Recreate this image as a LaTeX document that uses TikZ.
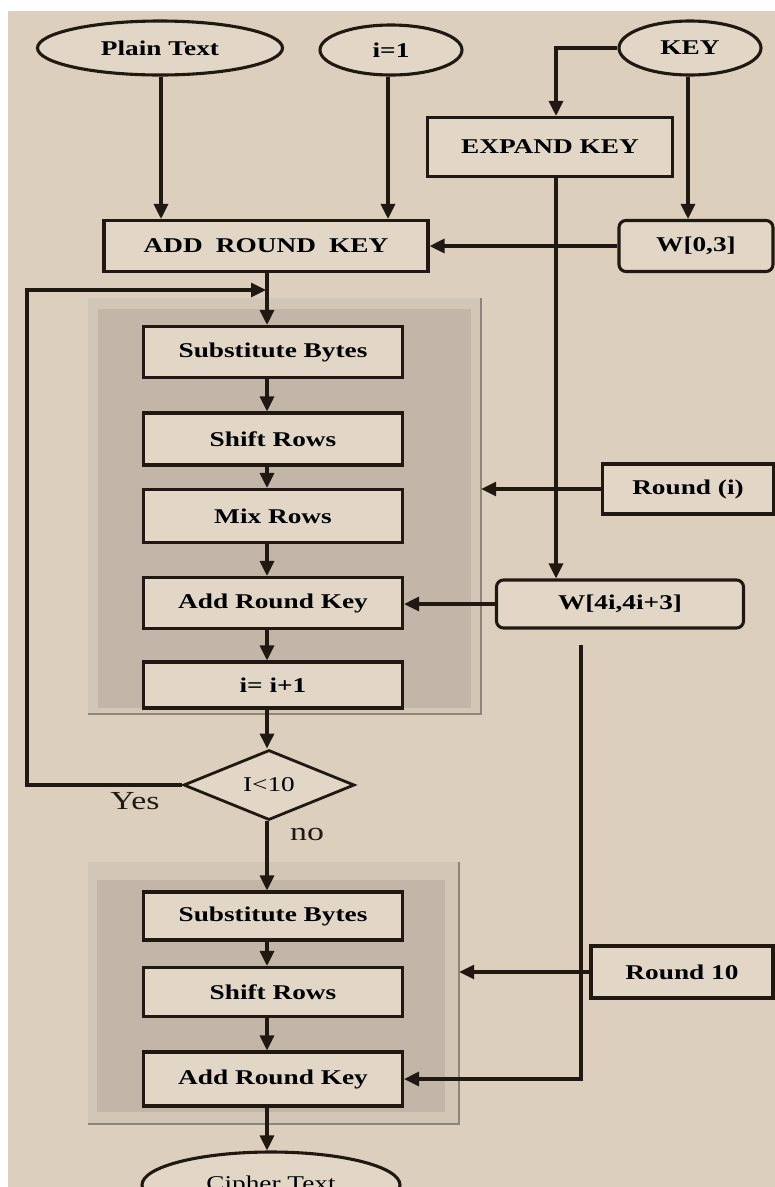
\documentclass[tikz,border=0pt]{standalone}
\usepackage{fontspec}
\setmainfont{Liberation Serif}[FakeStretch=1.3]
\usetikzlibrary{arrows.meta,shapes.geometric}
\definecolor{bg}{HTML}{DCCFBD}
\definecolor{boxfill}{HTML}{E2D7C7}
\definecolor{ink}{HTML}{211911}
\definecolor{panout}{HTML}{D2C6B7}
\definecolor{panin}{HTML}{C2B6A8}
\definecolor{frameline}{HTML}{8E8478}
\tikzset{
  box/.style={draw=ink, line width=3.1pt, fill=boxfill, inner sep=0pt,
    font=\bfseries\fontsize{21}{24}\selectfont},
  rbox/.style={box, rounded corners=7pt},
  oval/.style={box, ellipse},
  decide/.style={diamond, draw=ink, line width=2.8pt, fill=boxfill, inner sep=0pt,
    font=\fontsize{21}{24}\selectfont},
  arr/.style={draw=ink, line width=3.1pt, -{Triangle[length=15pt,width=14pt]}},
  panelout/.style={fill=panout, inner sep=0pt},
  panelin/.style={fill=panin, inner sep=0pt},
  lab/.style={font=\fontsize{26}{30}\selectfont, text=ink, inner sep=0pt}
}
\begin{document}
\begin{tikzpicture}[x=1pt,y=-1pt]
\useasboundingbox (0,0) rectangle (775,1187);
\clip (0,0) rectangle (775,1187);
\fill[white] (0,0) rectangle (775,1187);
\fill[bg] (8,11) rectangle (775,1187);

% panels
\node[panelout, minimum width=393pt, minimum height=416pt] (p1) at (284.5,506) {};
\draw[frameline, line width=2.2pt] (p1.north east) -- (p1.south east) -- (p1.south west);
\node[panelin, minimum width=373pt, minimum height=399pt] (p1i) at (284,508) {};
\node[panelout, minimum width=371pt, minimum height=262pt] (p2) at (273.5,993) {};
\draw[frameline, line width=2.2pt] (p2.north east) -- (p2.south east) -- (p2.south west);
\node[panelin, minimum width=348pt, minimum height=232pt] (p2i) at (271,996) {};

% top nodes
\node[oval, minimum width=245pt, minimum height=54pt] (plain) at (160,48) {Plain Text};
\node[oval, minimum width=142pt, minimum height=50pt] (ione) at (391,50) {i=1};
\node[oval, minimum width=142pt, minimum height=54pt] (key) at (690,48) {KEY};
\node[box, minimum width=245pt, minimum height=59pt] (expand) at (550,147) {EXPAND KEY};
\node[box, minimum width=324pt, minimum height=51pt] (ark) at (266,246) {ADD\hspace{0.3em} ROUND\hspace{0.3em} KEY};
\node[rbox, minimum width=154pt, minimum height=51pt] (w03) at (696,246) {W[0,3]};

% round loop
\node[box, minimum width=259pt, minimum height=51pt] (sb1) at (273,352) {Substitute Bytes};
\node[box, minimum width=259pt, minimum height=52pt] (sr1) at (273,439) {Shift Rows};
\node[box, minimum width=259pt, minimum height=53pt] (mr1) at (273,516) {Mix Rows};
\node[box, minimum width=259pt, minimum height=51pt] (ark1) at (273,603) {Add Round Key};
\node[box, minimum width=259pt, minimum height=46pt] (inc) at (273,685) {i= i+1};
\node[box, minimum width=171pt, minimum height=50pt] (roundi) at (688,489) {Round (i)};
\node[rbox, minimum width=247pt, minimum height=48pt] (w4i) at (620,604) {W[4i,4i+3]};

\node[decide, minimum width=171pt, minimum height=70pt] (dia) at (269,785) {I<10};
\node[lab] (yes) at (135,801) {Yes};
\node[lab] (no) at (307,834) {no};

% final round
\node[box, minimum width=259pt, minimum height=48pt] (sb2) at (273,916) {Substitute Bytes};
\node[box, minimum width=259pt, minimum height=49pt] (sr2) at (273,992) {Shift Rows};
\node[box, minimum width=259pt, minimum height=54pt] (ark2) at (273,1079) {Add Round Key};
\node[box, minimum width=182pt, minimum height=52pt] (r10) at (682,972) {Round 10};
\node[oval, minimum width=258pt, minimum height=66pt, font=\fontsize{21}{24}\selectfont] (cipher) at (271,1185) {Cipher Text};

% helper coordinates
\coordinate (cx) at (267,0);
\coordinate (ex) at (556,0);
\coordinate (loopA) at (27,785);
\coordinate (loopB) at (27,290);
\coordinate (loopC) at (266,290);
\coordinate (w4b) at (581,645);

% connectors
\draw[arr] (plain.south -| 161,0) -- (ark.north -| 161,0);
\draw[arr] (ione.south -| 388,0) -- (ark.north -| 388,0);
\draw[arr] (key.west) -| (expand.north -| ex);
\draw[arr] (key.south -| 688,0) -- (w03.north -| 688,0);
\draw[arr] (w03.west) -- (ark.east |- w03.west);
\draw[arr] (expand.south -| ex) -- (w4i.north -| ex);

\draw[arr] (ark.south -| cx) -- (sb1.north -| cx);
\draw[arr] (sb1.south -| cx) -- (sr1.north -| cx);
\draw[arr] (sr1.south -| cx) -- (mr1.north -| cx);
\draw[arr] (mr1.south -| cx) -- (ark1.north -| cx);
\draw[arr] (ark1.south -| cx) -- (inc.north -| cx);
\draw[arr] (inc.south -| cx) -- (dia.north -| cx);
\draw[arr] (roundi.west) -- (roundi.west -| p1.east);
\draw[arr] (w4i.west) -- (ark1.east |- w4i.west);

\draw[arr] (dia.west) -- (loopA) -- (loopB) -- (loopC);
\draw[arr] (dia.south -| cx) -- (sb2.north -| cx);
\draw[arr] (sb2.south -| cx) -- (sr2.north -| cx);
\draw[arr] (sr2.south -| cx) -- (ark2.north -| cx);
\draw[arr] (ark2.south -| cx) -- (cipher.north -| cx);
\draw[arr] (r10.west) -- (r10.west -| p2.east);
\draw[arr] (w4b) |- (ark2.east);
\end{tikzpicture}
\end{document}
